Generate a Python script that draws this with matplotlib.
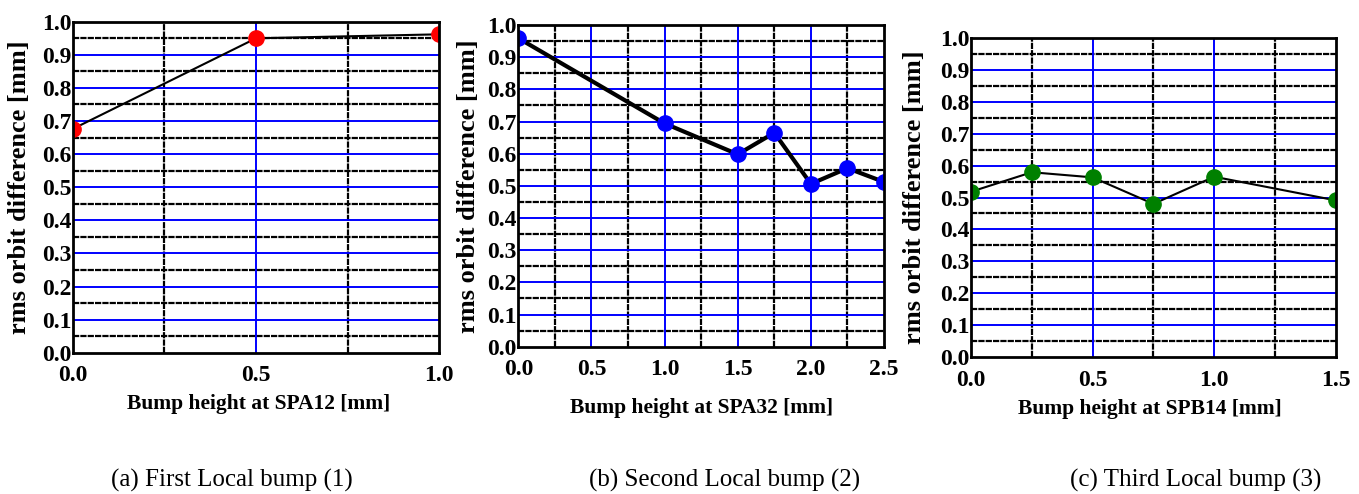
import matplotlib
matplotlib.use('Agg')
import matplotlib.pyplot as plt
import matplotlib.transforms as mtransforms
import numpy as np
from matplotlib.ticker import MultipleLocator

plt.rcParams['font.family'] = ['Liberation Serif', 'DejaVu Serif']

# data
x_spa12 = [0.0, 0.5, 1.0]
y_spa12 = [0.676, 0.950, 0.962]

x_spa32 = [0.0, 1.0, 1.5, 1.75, 2.0, 2.25, 2.5]
y_spa32 = [0.959, 0.694, 0.598, 0.665, 0.506, 0.555, 0.512]

x_spb14 = [0.0, 0.25, 0.5, 0.75, 1.0, 1.5]
y_spb14 = [0.518, 0.579, 0.563, 0.480, 0.565, 0.491]

xlabels = ['Bump height at SPA12 [mm]', 'Bump height at SPA32 [mm]', 'Bump height at SPB14 [mm]']
captions = ['(a) First Local bump (1)', '(b) Second Local bump (2)', '(c) Third Local bump (3)']
xmax = [1.0, 2.5, 1.5]
colors = ['red', 'blue', 'green']
line_widths = [1.5, 3.0, 1.5]

fig = plt.figure(figsize=(13.59, 4.94), dpi=100)

rects = [[0.0535, 0.2860, 0.2698, 0.6700],
         [0.3814, 0.2982, 0.2691, 0.6512],
         [0.7145, 0.2767, 0.2684, 0.6470]]
xlabel_pos = [(259, 404), (702, 408), (1150, 409)]
caption_pos = [(232, 480), (725, 480), (1196, 480)]
ylabel_x = [31, 480, 926]

series = [(x_spa12, y_spa12), (x_spa32, y_spa32), (x_spb14, y_spb14)]

for i, (xs, ys) in enumerate(series):
  ax = fig.add_axes(rects[i])
  ax.set_xlim(0, xmax[i])
  ax.set_ylim(0, 1.0)

  # grid: blue major, black dotted minor
  for v in np.arange(0.05, 1.0, 0.1):
    ax.axhline(v, color='black', lw=1.6, ls=(0, (2.8, 0.5)), zorder=1)
  for v in np.arange(0.1, 0.95, 0.1):
    ax.axhline(v, color='blue', lw=1.4, zorder=1.5)
  for v in np.arange(0.25, xmax[i], 0.5):
    ax.axvline(v, color='black', lw=1.6, ls=(0, (2.8, 0.5)), zorder=1)
  for v in np.arange(0.5, xmax[i] - 0.01, 0.5):
    ax.axvline(v, color='blue', lw=1.4, zorder=1.5)

  ax.plot(xs, ys, color='black', lw=line_widths[i], zorder=3)
  ax.plot(xs, ys, 'o', color=colors[i], ms=11, mec=colors[i], zorder=4)

  ax.xaxis.set_major_locator(MultipleLocator(0.5))
  ax.yaxis.set_major_locator(MultipleLocator(0.1))
  ax.set_xticklabels(['%.1f' % t for t in ax.get_xticks()], fontweight='bold', fontsize=17)
  ax.set_yticklabels(['%.1f' % t for t in ax.get_yticks()], fontweight='bold', fontsize=17)
  ax.tick_params(axis='y', length=0, pad=1)
  ax.tick_params(axis='x', length=0, pad=9)
  for s in ax.spines.values():
    s.set_linewidth(2)
    s.set_zorder(5)
  ax.set_ylabel('rms orbit difference [mm]', fontsize=19, fontweight='bold')
  trans = mtransforms.blended_transform_factory(fig.transFigure, ax.transAxes)
  ax.yaxis.set_label_coords(ylabel_x[i] / 1359, 0.5, transform=trans)

  fig.text(xlabel_pos[i][0] / 1359, 1 - xlabel_pos[i][1] / 494, xlabels[i],
           ha='center', va='center', fontsize=15.5, fontweight='bold')
  fig.text(caption_pos[i][0] / 1359, 1 - caption_pos[i][1] / 494, captions[i],
           ha='center', va='center', fontsize=18)

fig.savefig('out.png', dpi=100)
